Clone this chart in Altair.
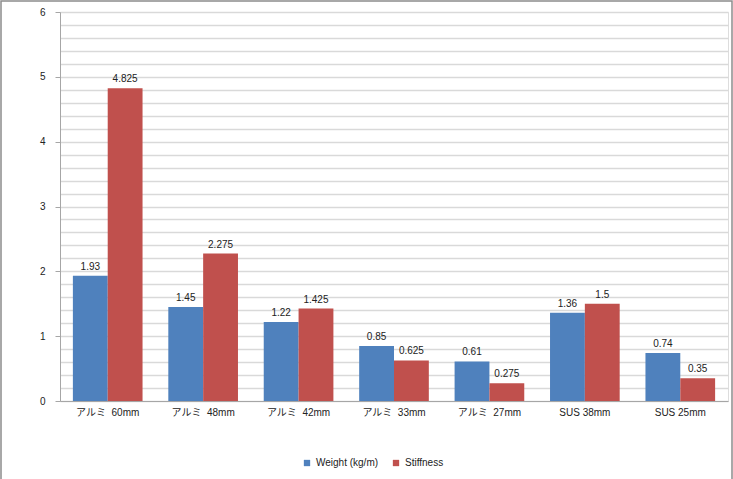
import altair as alt
import pandas as pd

categories = ["アルミ\u00a0\u00a060mm", "アルミ\u00a0\u00a048mm", "アルミ\u00a0\u00a042mm", "アルミ\u00a0\u00a033mm", "アルミ\u00a0\u00a027mm", "SUS 38mm", "SUS 25mm"]
weight = [1.93, 1.45, 1.22, 0.85, 0.61, 1.36, 0.74]
stiffness = [4.825, 2.275, 1.425, 0.625, 0.275, 1.5, 0.35]
series = ["Weight (kg/m)", "Stiffness"]
y_ticks = [round(i * 0.2, 1) for i in range(31)]

rows = []
for c, w, s in zip(categories, weight, stiffness):
    rows.append({"cat": c, "series": series[0], "value": w, "label": f"{w:g}"})
    rows.append({"cat": c, "series": series[1], "value": s, "label": f"{s:g}"})
df = pd.DataFrame(rows)

FONT = "Liberation Sans, Noto Sans CJK JP"

x = alt.X("cat:N", sort=categories, title=None,
          scale=alt.Scale(paddingInner=0.27, paddingOuter=0.135),
          axis=alt.Axis(labelAngle=0, labelFontSize=10, labelColor="#222", labelPadding=6,
                        domainColor="#a6a6a6", ticks=False, labelFont=FONT))
xo = alt.XOffset("series:N", sort=series, scale=alt.Scale(paddingInner=0, paddingOuter=0))
y = alt.Y("value:Q", title=None,
          scale=alt.Scale(domain=[0, 6], nice=False),
          axis=alt.Axis(values=y_ticks,
                        labelExpr="datum.value % 1 == 0 ? format(datum.value, 'd') : ''",
                        tickOpacity={"expr": "datum.value % 1 == 0 ? 1 : 0"},
                        gridColor="#d9d9d9", gridWidth=1.5, domainColor="#a6a6a6",
                        tickColor="#a6a6a6", tickSize=5, labelFontSize=10, labelColor="#222",
                        labelPadding=10, labelFont=FONT))

color = alt.Color("series:N", sort=series,
                  scale=alt.Scale(domain=series, range=["#4F81BD", "#C0504D"]),
                  legend=alt.Legend(title=None, orient="none", direction="horizontal",
                                    legendX=242, legendY=446, symbolType="square",
                                    symbolSize=40, symbolStrokeWidth=0, labelFontSize=10,
                                    labelFont=FONT, labelColor="#222", columnPadding=12))

bars = alt.Chart(df).mark_bar().encode(x=x, xOffset=xo, y=y, color=color)
labels = alt.Chart(df).mark_text(dy=-9, fontSize=10, color="#222", font=FONT).encode(
    x=x, xOffset=xo, y=y, text="label:N")

frame = alt.Chart(pd.DataFrame({"a": [0]})).mark_rect(
    fill=None, stroke="#8c8c8c", strokeWidth=1.5, clip=False).encode(
    x=alt.value(-59), x2=alt.value(672), y=alt.value(-11), y2=alt.value(478))

chart = alt.layer(bars, labels, frame).properties(
    width=668, height=389,
    autosize=alt.AutoSizeParams(type="none"),
    padding={"left": 60, "top": 12, "right": 5, "bottom": 78},
).configure_view(stroke=None).configure(background="white")

chart.save("out.html", embed_options={"renderer": "svg", "actions": False})
